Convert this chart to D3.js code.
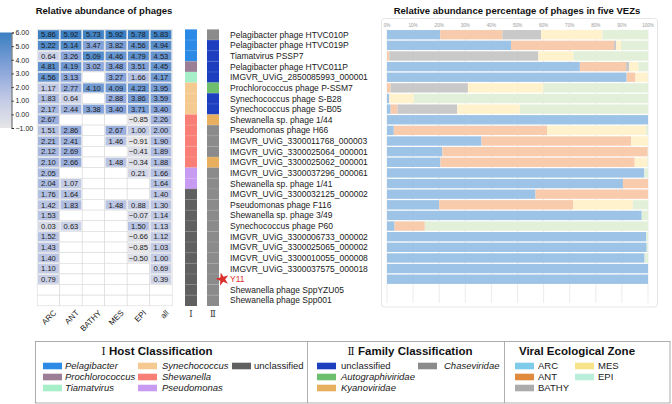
<!DOCTYPE html>
<html><head><meta charset="utf-8">
<script src="https://cdn.jsdelivr.net/npm/d3@7"></script>
<style>
html,body{margin:0;padding:0;background:#fff;}
svg{display:block;font-family:"Liberation Sans",Arial,sans-serif;}
</style></head>
<body>
<svg id="c" width="672" height="404"></svg>
<script>
// ---------- DATA ----------
const names = ["Pelagibacter phage HTVC010P","Pelagibacter phage HTVC019P","Tiamatvirus PSSP7","Pelagibacter phage HTVC011P","IMGVR_UViG_2850085993_000001","Prochlorococcus phage P-SSM7","Synechococcus phage S-B28","Synechococcus phage S-B05","Shewanella sp. phage 1/44","Pseudomonas phage H66","IMGVR_UViG_3300011768_000003","IMGVR_UViG_3300025064_000001","IMGVR_UViG_3300025062_000001","IMGVR_UViG_3300037296_000061","Shewanella sp. phage 1/41","IMGVR_UViG_3300032125_000002","Pseudomonas phage F116","Shewanella sp. phage 3/49","Synechococcus phage P60","IMGVR_UViG_3300006733_000002","IMGVR_UViG_3300025065_000002","IMGVR_UViG_3300010055_000008","IMGVR_UViG_3300037575_000018","Y11","Shewanella phage SppYZU05","Shewanella phage Spp001"];
const heatCols = ["ARC","ANT","BATHY","MES","EPI","all"];
const heatARC   = [5.86,5.22,0.64,4.81,4.56,1.17,1.83,2.17,2.67,1.51,2.21,2.12,2.10,2.05,2.04,1.76,1.42,1.53,0.03,1.52,1.43,1.40,1.10,0.79,null,null];
const heatANT   = [5.92,5.14,3.26,4.19,3.13,2.77,0.64,2.44,null,2.86,2.41,2.69,2.66,null,1.07,1.64,1.83,null,0.63,null,null,null,null,null,null,null];
const heatBATHY = [5.73,3.47,5.09,3.02,null,4.10,null,3.38,null,null,null,null,null,null,null,null,null,null,null,null,null,null,null,null,null,null];
const heatMES   = [5.92,3.82,4.46,3.48,3.27,4.09,2.88,3.40,null,2.67,1.46,null,1.48,null,null,null,1.48,null,null,null,null,null,null,null,null,null];
const heatEPI   = [5.78,4.56,4.79,3.51,1.66,4.23,3.86,3.71,-0.85,1.00,-0.91,-0.41,-0.34,0.21,null,null,0.88,-0.07,1.50,-0.66,-0.85,-0.50,null,null,null,null];
const heatALL   = [5.83,4.94,4.53,4.45,4.17,3.95,3.59,3.40,2.26,2.00,1.90,1.89,1.88,1.66,1.64,1.40,1.30,1.14,1.13,1.12,1.03,1.00,0.69,0.39,null,null];
const colorbarTicks = [6,5,4,3,2,1,0,-1];

const hostCat = ["Pelagibacter","Pelagibacter","Pelagibacter","Prochlorococcus","Tiamatvirus","Synechococcus","Synechococcus","Synechococcus","Shewanella","Shewanella","Shewanella","Shewanella","Shewanella","Pseudomonas","Pseudomonas","unclassified","unclassified","unclassified","unclassified","unclassified","unclassified","unclassified","unclassified","unclassified","unclassified","unclassified"];
const familyCat = ["Chaseviridae","unclassified","unclassified","unclassified","unclassified","Autographiviridae","unclassified","unclassified","Kyanoviridae","Chaseviridae","Chaseviridae","Chaseviridae","Kyanoviridae","Chaseviridae","Chaseviridae","Chaseviridae","Chaseviridae","Chaseviridae","Chaseviridae","Chaseviridae","Chaseviridae","Chaseviridae","Chaseviridae","Chaseviridae","Chaseviridae","Chaseviridae"];

const zones = ["ARC","ANT","BATHY","MES","EPI"];
const pctARC   = [20.4,47.5,0.0,73.9,91.8,0.0,0.8,1.4,100,2.6,36.2,21.2,20.5,98.6,90.4,56.9,20.0,97.6,2.9,99.3,99.5,98.7,100,100];
const pctANT   = [23.8,39.5,0.9,17.7,3.4,1.4,0.1,2.6,0,58.7,57.4,78.7,74.4,0,9.6,43.1,51.3,0,11.6,0,0,0,0,0];
const pctBATHY = [14.9,0.8,57.1,1.2,0,29.6,0,22.9,0,0,0,0,0,0,0,0,0,0,0,0,0,0,0,0];
const pctMES   = [23.4,1.9,13.4,3.5,4.7,28.9,9.4,24.0,0,37.9,6.4,0,4.9,0,0,0,22.9,0,0,0,0,0,0,0];
const pctEPI   = [17.5,10.3,28.6,3.7,0.1,40.1,89.7,49.1,0,0.8,0,0.1,0.2,1.4,0,0,5.8,2.4,85.5,0.7,0.5,1.3,0,0];
const pctTicks = [0,10,20,30,40,50,60,70,80,90,100];

const hostNames = ["Pelagibacter","Prochlorococcus","Tiamatvirus","Synechococcus","Shewanella","Pseudomonas","unclassified"];
const hostColors = ["#2b8ae6","#9c7f96","#a7efc8","#f5ca90","#f97f76","#c79bf2","#606060"];
const familyNames = ["unclassified","Autographiviridae","Kyanoviridae","Chaseviridae"];
const familyColors = ["#1d3fbf","#6dbf6d","#e8af5f","#8b8b8b"];
const zoneLegendColors = ["#7fcbea","#e08a3d","#ababab","#f6e38a","#b9efda"];
const zoneBarColors = ["#9dc3e6","#f8cbad","#c9c9c9","#fff2cc","#e2f0d9"];

// ---------- SCALES ----------
const svg = d3.select("#c");
const y = d3.scaleBand().domain(d3.range(names.length)).range([29.4, 305.8]);
const xh = d3.scaleBand().domain(heatCols).range([37.2, 172.2]);
const heatColor = d3.scaleLinear().domain([-1,1,3,6]).range(["#e6e6e8","#c5cce5","#91a9db","#3a7fc2"]);
const hostColor = d3.scaleOrdinal().domain(hostNames).range(hostColors);
const famColor = d3.scaleOrdinal().domain(familyNames).range(familyColors);
const xb = d3.scaleLinear().domain([0,100]).range([387, 648]);
const zoneColor = d3.scaleOrdinal().domain(zones).range(zoneBarColors);
const yc = d3.scaleLinear().domain([-1,6]).range([128, 32.5]);

// ---------- TITLES ----------
svg.append("text").attr("x",104).attr("y",14).attr("text-anchor","middle")
  .attr("font-weight","bold").attr("font-size",9.5).attr("fill","#111").text("Relative abundance of phages");
svg.append("text").attr("x",517).attr("y",14).attr("text-anchor","middle")
  .attr("font-weight","bold").attr("font-size",9.5).attr("fill","#111").text("Relative abundance percentage of phages in five VEZs");

// ---------- COLORBAR ----------
const defs = svg.append("defs");
const grad = defs.append("linearGradient").attr("id","cb").attr("x1",0).attr("x2",0).attr("y1",1).attr("y2",0);
d3.range(0,1.0001,0.1).forEach(t=>{
  grad.append("stop").attr("offset",t).attr("stop-color",heatColor(-1+7*t));
});
svg.append("rect").attr("x",0).attr("y",yc(6)).attr("width",11.5).attr("height",yc(-1)-yc(6)).attr("fill","url(#cb)");
const cbAxis = svg.append("g").attr("transform","translate(11.5,0)")
  .call(d3.axisRight(yc).tickValues(colorbarTicks).tickFormat(d3.format(".2f")).tickSize(2.5).tickPadding(1.5));
cbAxis.selectAll("text").attr("font-size",7).attr("fill","#222").attr("font-family","Liberation Sans, Arial, sans-serif");
cbAxis.selectAll("line,path").attr("stroke","#111").attr("stroke-width",0.7);

// ---------- HEATMAP ----------
const heatData = [heatARC,heatANT,heatBATHY,heatMES,heatEPI,heatALL];
const cells = [];
heatData.forEach((arr,ci)=>arr.forEach((v,ri)=>cells.push({c:heatCols[ci],r:ri,v})));
const hg = svg.append("g");
hg.selectAll("rect.grid").data(cells).join("rect")
  .attr("x",d=>xh(d.c)).attr("y",d=>y(d.r)).attr("width",xh.bandwidth()).attr("height",y.bandwidth())
  .attr("fill","#fff").attr("stroke","#dadada").attr("stroke-width",0.6);
hg.selectAll("rect.val").data(cells.filter(d=>d.v!==null)).join("rect")
  .attr("x",d=>xh(d.c)+0.8).attr("y",d=>y(d.r)+0.8).attr("width",xh.bandwidth()-1.6).attr("height",y.bandwidth()-1.6)
  .attr("fill",d=>heatColor(d.v));
hg.selectAll("text").data(cells.filter(d=>d.v!==null)).join("text")
  .attr("x",d=>xh(d.c)+xh.bandwidth()/2).attr("y",d=>y(d.r)+y.bandwidth()/2+2.7)
  .attr("text-anchor","middle").attr("font-size",7.6).attr("fill","#1a1a1a")
  .text(d=>d3.format(".2f")(d.v));
svg.append("g").selectAll("text").data(heatCols).join("text")
  .attr("transform",d=>`translate(${xh(d)+xh.bandwidth()/2+5},${310}) rotate(-45)`)
  .attr("text-anchor","end").attr("font-size",8).attr("fill","#222").attr("dy","0.6em").text(d=>d);

// ---------- STRIPS ----------
function strip(x, cats, scale){
  const g = svg.append("g");
  g.selectAll("rect").data(cats).join("rect")
    .attr("x",x).attr("y",(d,i)=>y(i)).attr("width",12).attr("height",y.bandwidth()+0.2)
    .attr("fill",d=>scale(d));
  g.selectAll("line").data(cats.slice(1)).join("line")
    .attr("x1",x).attr("x2",x+12).attr("y1",(d,i)=>y(i+1)).attr("y2",(d,i)=>y(i+1))
    .attr("stroke","#fff").attr("stroke-opacity",0.25).attr("stroke-width",0.6);
}
strip(185, hostCat, hostColor);
strip(207, familyCat, famColor);
svg.append("text").attr("x",191).attr("y",317).attr("text-anchor","middle").attr("font-size",8.5)
  .attr("font-family","DejaVu Serif, serif").attr("fill","#333").text("Ⅰ");
svg.append("text").attr("x",213).attr("y",317).attr("text-anchor","middle").attr("font-size",8.5)
  .attr("font-family","DejaVu Serif, serif").attr("fill","#333").text("Ⅱ");

// ---------- ROW LABELS ----------
svg.append("g").selectAll("text").data(names).join("text")
  .attr("x",230).attr("y",(d,i)=>y(i)+y.bandwidth()/2+3)
  .attr("font-size",8.5).attr("fill",d=>d==="Y11"?"#e0302b":"#1a1a1a").text(d=>d);
const yIdx = names.indexOf("Y11");
svg.append("path").attr("d",d3.symbol(d3.symbolStar,55)())
  .attr("transform",`translate(222.5,${y(yIdx)+y.bandwidth()/2}) rotate(-15)`).attr("fill","#d9302b");

// ---------- STACKED BARS ----------
svg.append("rect").attr("x",381.5).attr("y",18.5).attr("width",276).attr("height",288.5).attr("rx",3)
  .attr("fill","#fff").attr("stroke","#e6e6e6").attr("stroke-width",1);
const gridG = svg.append("g");
gridG.selectAll("line").data(pctTicks).join("line")
  .attr("x1",d=>xb(d)).attr("x2",d=>xb(d)).attr("y1",29).attr("y2",303)
  .attr("stroke","#e3e3e3").attr("stroke-width",0.7);
gridG.selectAll("text").data(pctTicks).join("text")
  .attr("x",d=>xb(d)).attr("y",26.5).attr("text-anchor","middle").attr("font-size",4.6).attr("fill","#9a9a9a")
  .text(d=>d+"%");
const pctRows = pctARC.map((v,i)=>({i, ARC:pctARC[i], ANT:pctANT[i], BATHY:pctBATHY[i], MES:pctMES[i], EPI:pctEPI[i]}));
const stack = d3.stack().keys(zones)(pctRows);
const yb = d3.scaleBand().domain(d3.range(pctRows.length)).range([y(0), y(pctRows.length)]).paddingInner(0.12).paddingOuter(0.06);
svg.append("g").selectAll("g").data(stack).join("g").attr("fill",d=>zoneColor(d.key))
  .selectAll("rect").data(d=>d).join("rect")
  .attr("x",d=>xb(d[0])).attr("width",d=>Math.max(0,xb(Math.min(100,d[1]))-xb(d[0])))
  .attr("y",d=>yb(d.data.i)).attr("height",yb.bandwidth());

// ---------- LEGEND ----------
const lg = svg.append("g");
lg.append("rect").attr("x",35.5).attr("y",341.5).attr("width",634.5).attr("height",61.5)
  .attr("fill","#fff").attr("stroke","#9a9a9a").attr("stroke-width",0.8);
[307,504].forEach(x=>lg.append("line").attr("x1",x+0.5).attr("x2",x+0.5).attr("y1",341.5).attr("y2",403)
  .attr("stroke","#9a9a9a").attr("stroke-width",0.8));
function legendTitle(x, numeral, text){
  const t = lg.append("text").attr("x",x).attr("y",355).attr("text-anchor","middle").attr("font-size",11.5).attr("font-weight","bold").attr("fill","#111");
  if(numeral) t.append("tspan").attr("font-family","DejaVu Serif, serif").attr("font-weight","normal").attr("font-size",10.5).text(numeral+" ");
  t.append("tspan").text(text);
}
legendTitle(157,"Ⅰ","Host Classification");
legendTitle(410,"Ⅱ","Family Classification");
legendTitle(577,null,"Viral Ecological Zone");
const rowsY = [366,377,388];
function item(sx, tx, row, color, label, italic){
  lg.append("rect").attr("x",sx).attr("y",rowsY[row]-3.3).attr("width",19).attr("height",6.6).attr("fill",color);
  lg.append("text").attr("x",tx).attr("y",rowsY[row]+3.3).attr("font-size",9.5).attr("fill","#1a1a1a")
    .attr("font-style",italic?"italic":"normal").text(label);
}
// Host
[[0,0],[1,0],[2,0],[0,1],[1,1],[2,1],[0,2]].forEach(([r,c],k)=>{
  const sx=[43,138,232][c], tx=[65,162,254][c];
  item(sx,tx,r,hostColor(hostNames[k]),hostNames[k],hostNames[k]!=="unclassified");
});
// Family
[[0,0],[1,0],[2,0],[0,1]].forEach(([r,c],k)=>{
  const sx=[317,418][c], tx=[341,444][c];
  item(sx,tx,r,famColor(familyNames[k]),familyNames[k],familyNames[k]!=="unclassified");
});
// Zones
[[0,0],[1,0],[2,0],[0,1],[1,1]].forEach(([r,c],k)=>{
  const sx=[515,575][c], tx=[538,598][c];
  item(sx,tx,r,zoneLegendColors[k],zones[k],false);
});
</script>
</body></html>
